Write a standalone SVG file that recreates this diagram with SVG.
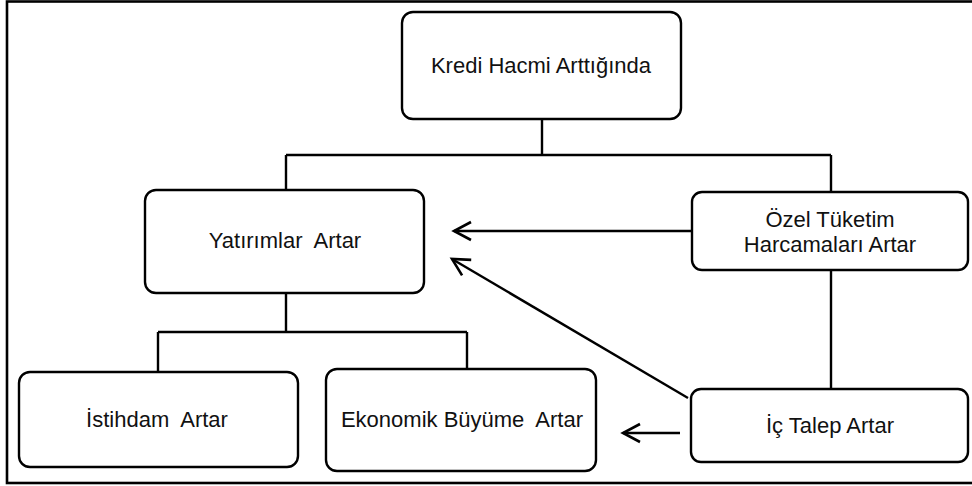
<svg xmlns="http://www.w3.org/2000/svg" width="972" height="486" viewBox="0 0 972 486">
<style>
.box{fill:#fff;stroke:#000;stroke-width:2.4}
.lbl{font-family:"Liberation Sans",Arial,sans-serif;font-size:22px;fill:#111;text-anchor:middle}
.ln{fill:none;stroke:#000;stroke-width:2.4}
</style>
<defs>
<marker id="arr" markerUnits="userSpaceOnUse" markerWidth="24" markerHeight="24" viewBox="-20 -12 24 24" refX="0" refY="0" orient="auto">
<path d="M-17,-9 L0,0 L-17,9" fill="none" stroke="#000" stroke-width="2.6"/>
</marker>
</defs>
<rect x="7" y="1.5" width="975" height="481.5" fill="#fff" stroke="#000" stroke-width="2.6"/>
<g id="connectors">
<path class="ln" d="M542,119 V155 M286,155 H831 M286,155 V190 M831,155 V192"/>
<path class="ln" d="M286,293 V332 M158,332 H467 M158,332 V372 M467,332 V369"/>
<path class="ln" d="M831,270 V389"/>
<line class="ln" x1="692" y1="231" x2="454" y2="231" marker-end="url(#arr)"/>
<line class="ln" x1="688" y1="398" x2="452" y2="259" marker-end="url(#arr)"/>
<line class="ln" x1="680" y1="433" x2="623" y2="433" marker-end="url(#arr)"/>
</g>
<g id="kredi">
<rect class="box" x="402" y="12" width="279" height="107" rx="11"/>
<text class="lbl" x="541" y="73">Kredi Hacmi Arttığında</text>
</g>
<g id="yatirim">
<rect class="box" x="145" y="190" width="279" height="103" rx="11"/>
<text class="lbl" x="285" y="248" xml:space="preserve">Yatırımlar  Artar</text>
</g>
<g id="ozel">
<rect class="box" x="692" y="192" width="276" height="78" rx="10"/>
<text class="lbl" x="830" y="227">Özel Tüketim</text>
<text class="lbl" x="830" y="252">Harcamaları Artar</text>
</g>
<g id="istihdam">
<rect class="box" x="19" y="372" width="279" height="95" rx="11"/>
<text class="lbl" x="157" y="427" xml:space="preserve">İstihdam  Artar</text>
</g>
<g id="ekonomik">
<rect class="box" x="326" y="369" width="270" height="102" rx="11"/>
<text class="lbl" x="462" y="427" xml:space="preserve">Ekonomik Büyüme  Artar</text>
</g>
<g id="ictalep">
<rect class="box" x="691" y="389" width="277" height="73" rx="10"/>
<text class="lbl" x="830" y="433">İç Talep Artar</text>
</g>
</svg>
